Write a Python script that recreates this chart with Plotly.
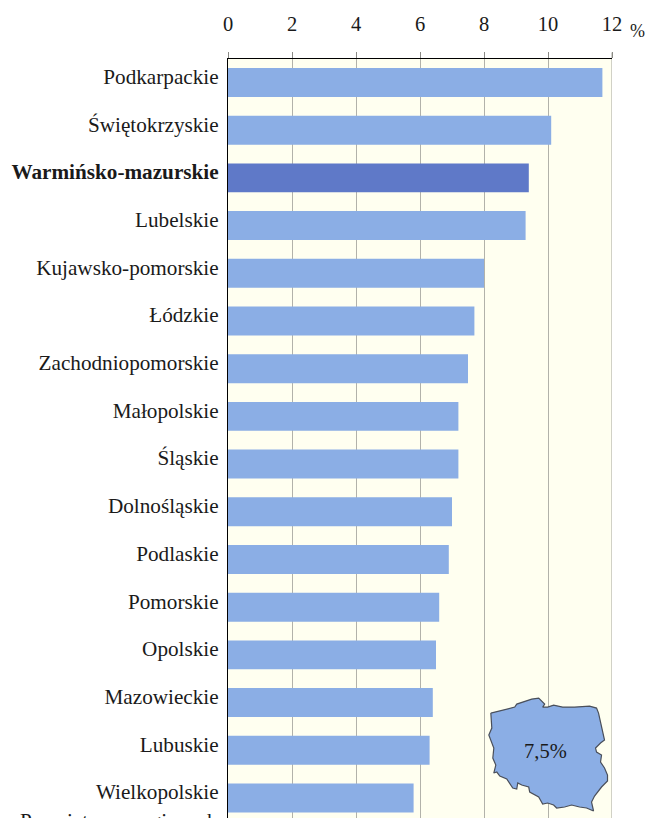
import plotly.graph_objects as go

categories = ["Podkarpackie", "Świętokrzyskie", "Warmińsko-mazurskie", "Lubelskie",
              "Kujawsko-pomorskie", "Łódzkie", "Zachodniopomorskie", "Małopolskie",
              "Śląskie", "Dolnośląskie", "Podlaskie", "Pomorskie", "Opolskie",
              "Mazowieckie", "Lubuskie", "Wielkopolskie"]
values = [11.7, 10.1, 9.4, 9.3, 8.0, 7.7, 7.5, 7.2, 7.2, 7.0, 6.9, 6.6, 6.5, 6.4, 6.3, 5.8]
highlighted = "Warmińsko-mazurskie"
x_ticks = [0, 2, 4, 6, 8, 10, 12]
national_label = "7,5%"
cut_off_label = "Przeciętna w regionach"

# Outline of Poland (decorative inset), in picture pixels
map_x = [491, 500, 508, 515, 517, 525, 532, 539, 542, 545, 543, 548, 554, 563, 575, 590, 597,
         599, 601, 603, 605, 601, 596, 597, 602, 601, 605, 608, 608, 602, 595, 592, 594,
         587, 580, 572, 565, 557, 554, 548, 543, 539, 530, 529, 522, 518, 517, 513, 510,
         507, 500, 497, 494, 496, 493, 494, 489, 492, 491]
map_y = [713, 711, 709, 707, 704, 701, 699, 698, 701, 704, 707, 707, 705, 707, 707, 706, 708,
         713, 722, 730, 740, 743, 748, 752, 755, 762, 768, 775, 781, 787, 796, 802, 811,
         808, 807, 805, 807, 808, 805, 803, 804, 797, 792, 787, 785, 783, 789, 788, 783,
         779, 776, 772, 773, 765, 758, 748, 735, 728, 713]

L, R, T, B = 227.5, 612.5, 58.5, 818


def px(x):
    return (x - L) / (R - L)


def py(y):
    return (B - y) / (B - T)


fig = go.Figure()
fig.add_bar(
    x=values, y=list(range(len(categories))), orientation="h", width=0.607,
    marker=dict(color=["#5F79C8" if c == highlighted else "#8BAEE5" for c in categories], line_width=0),
    showlegend=False,
)
fig.add_scatter(
    x=map_x, y=map_y, xaxis="x2", yaxis="y2", mode="lines", fill="toself",
    fillcolor="#8BAEE5", line=dict(color="#4A4F5A", width=1.2), showlegend=False, hoverinfo="skip",
)
serif = "Liberation Serif"
fig.update_layout(
    width=648, height=818, autosize=False,
    margin=dict(l=L, r=648 - R, t=T, b=0, pad=0),
    paper_bgcolor="white", plot_bgcolor="#FFFFF0",
    font=dict(family=serif, color="#1a1a1a", size=20),
    xaxis=dict(side="top", range=[0, 12], tickvals=x_ticks, showgrid=True, gridcolor="#B2B2AA", gridwidth=1.2,
               zeroline=False, showline=True, linecolor="black", linewidth=1.3,
               ticks="outside", ticklen=6, tickcolor="#8a8a85", tickwidth=1,
               tickfont=dict(size=20.5), ticklabelstandoff=13),
    yaxis=dict(range=[15.42, -0.492], tickvals=list(range(len(categories))),
               ticktext=[f"<b>{c}</b>" if c == highlighted else c for c in categories],
               showgrid=False, zeroline=False, showline=True, linecolor="black", linewidth=1.3,
               ticks="", tickfont=dict(size=21.2), ticklabelstandoff=4, ticklabelshift=6),
    xaxis2=dict(range=[L, R], overlaying="x", visible=False, domain=[0, 1]),
    yaxis2=dict(range=[B, T], overlaying="y", visible=False, domain=[0, 1]),
    shapes=[dict(type="line", xref="x", yref="paper", x0=12, x1=12, y0=0, y1=py(52),
                 line=dict(color="#B2B2AA", width=1.2), layer="below")],
    annotations=[
        dict(text="%", xref="paper", yref="paper", x=px(638), y=py(30), xanchor="center", yanchor="middle",
             showarrow=False, font=dict(size=18)),
        dict(text=national_label, xref="x2", yref="y2", x=546, y=751, showarrow=False, font=dict(size=20.5)),
        dict(text=cut_off_label, xref="paper", yref="paper", x=px(219), y=py(821), xanchor="right",
             yanchor="middle", showarrow=False, font=dict(size=21.2)),
    ],
)
fig.write_html("out.html", config=dict(displayModeBar=False),
               post_script="document.body.style.margin='0';document.body.style.overflow='hidden';")
